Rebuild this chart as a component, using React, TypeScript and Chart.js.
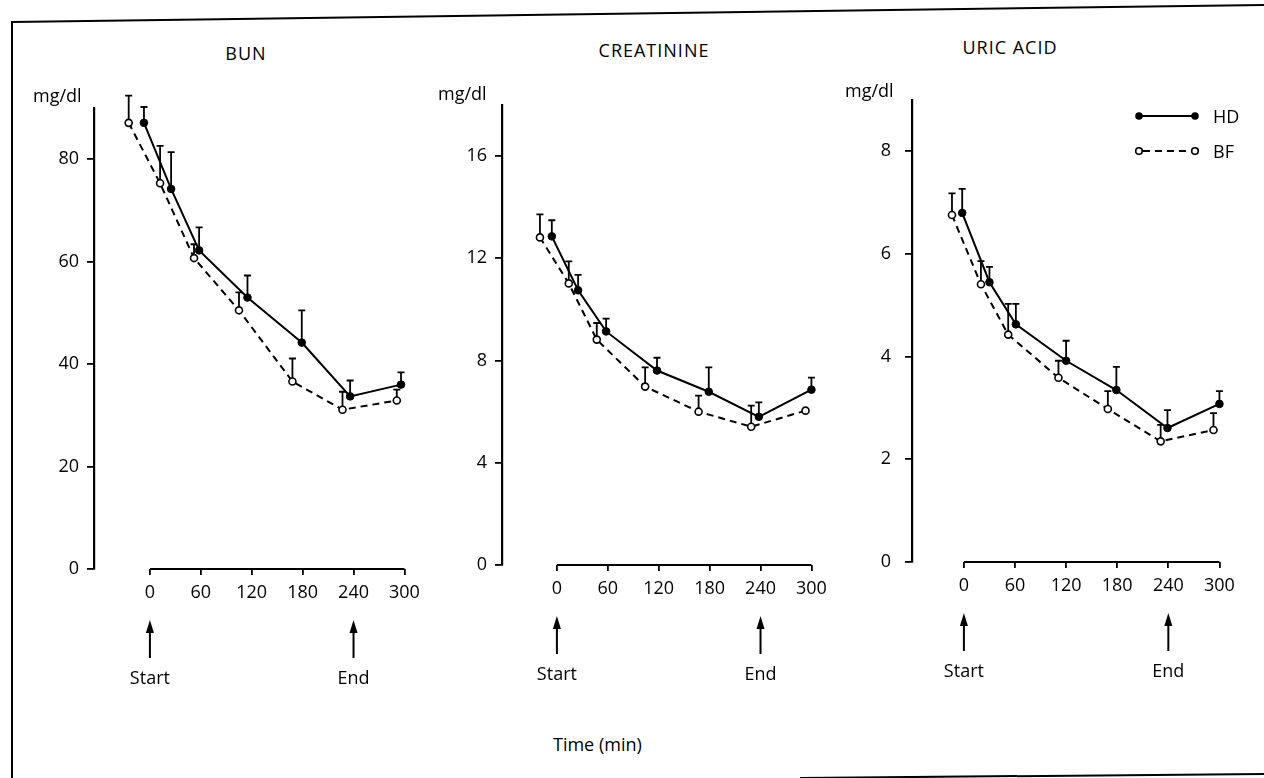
import React, { useEffect, useRef } from 'react';
import { Chart, registerables } from 'chart.js';

Chart.register(...registerables);
Chart.defaults.font.family = "'Open Sans', sans-serif";
Chart.defaults.font.size = 18;
Chart.defaults.color = '#000';

// ---- shared axis data ----
const tickTimes = [0, 60, 120, 180, 240, 300];
const arrowTimes = [0, 240];
const arrowLabels = ['Start', 'End'];
const seriesNames = ['HD', 'BF'];

// ---- BUN ----
const bunTicks = [0, 20, 40, 60, 80];
const bunHdTime = [-7, 25, 58, 115, 179, 236, 296];
const bunHdMean = [87.1, 74.2, 62.2, 53.0, 44.2, 33.7, 36.0];
const bunHdErr = [3.1, 7.2, 4.5, 4.3, 6.3, 3.1, 2.4];
const bunBfTime = [-25, 12, 52, 105, 168, 227, 291];
const bunBfMean = [87.1, 75.3, 60.7, 50.5, 36.6, 31.1, 32.9];
const bunBfErr = [5.3, 7.3, 2.7, 3.5, 4.5, 3.5, 2.1];

// ---- CREATININE ----
const creTicks = [0, 4, 8, 12, 16];
const creHdTime = [-6, 25, 58, 118, 179, 238, 300];
const creHdMean = [12.86, 10.75, 9.14, 7.61, 6.78, 5.8, 6.86];
const creHdErr = [0.63, 0.6, 0.5, 0.5, 0.95, 0.56, 0.47];
const creBfTime = [-20, 14, 47, 104, 167, 229, 293];
const creBfMean = [12.82, 11.02, 8.82, 6.98, 6.0, 5.41, 6.04];
const creBfErr = [0.9, 0.86, 0.65, 0.75, 0.63, 0.83, 0];

// ---- URIC ACID ----
const uriTicks = [0, 2, 4, 6, 8];
const uriHdTime = [-2, 30, 61, 120, 179, 239, 300];
const uriHdMean = [6.8, 5.45, 4.63, 3.92, 3.35, 2.61, 3.08];
const uriHdErr = [0.47, 0.3, 0.4, 0.39, 0.45, 0.35, 0.25];
const uriBfTime = [-14, 20, 52, 111, 169, 231, 293];
const uriBfMean = [6.76, 5.41, 4.43, 3.59, 2.98, 2.35, 2.57];
const uriBfErr = [0.42, 0.45, 0.6, 0.33, 0.35, 0.32, 0.33];

type Series = { t: number[]; m: number[]; e: number[] };
type Layout = { axisX: number; x0: number; x300: number; top: number; bottom: number; labelPad: number; padRight: number };
type Panel = { title: string; yMax: number; yTicks: number[]; hd: Series; bf: Series; layout: Layout };

const panels: Panel[] = [
  {
    title: 'BUN', yMax: 90, yTicks: bunTicks,
    hd: { t: bunHdTime, m: bunHdMean, e: bunHdErr },
    bf: { t: bunBfTime, m: bunBfMean, e: bunBfErr },
    layout: { axisX: 94, x0: 150, x300: 405, top: 108, bottom: 569, labelPad: 8, padRight: 5 },
  },
  {
    title: 'CREATININE', yMax: 18, yTicks: creTicks,
    hd: { t: creHdTime, m: creHdMean, e: creHdErr },
    bf: { t: creBfTime, m: creBfMean, e: creBfErr },
    layout: { axisX: 502, x0: 557, x300: 812, top: 105, bottom: 565, labelPad: 8, padRight: 5 },
  },
  {
    title: 'URIC ACID', yMax: 9, yTicks: uriTicks,
    hd: { t: uriHdTime, m: uriHdMean, e: uriHdErr },
    bf: { t: uriBfTime, m: uriBfMean, e: uriBfErr },
    layout: { axisX: 912, x0: 964, x300: 1220, top: 100, bottom: 562, labelPad: 14, padRight: 5 },
  },
];

const FONT = "'Open Sans', sans-serif";

function PanelChart({ p }: { p: Panel }) {
  const ref = useRef<HTMLCanvasElement>(null);
  const L = p.layout;
  const yAxisW = 80;
  const padTop = 25;
  const below = 130;
  const xAxisH = 45;
  const left = L.axisX - yAxisW;
  const chartRight = L.x300 + 20;
  const width = chartRight + L.padRight - left;
  const topPx = L.top - padTop;
  const height = L.bottom + below - topPx;
  const k = (L.x300 - L.x0) / 300;
  const xMin = -(L.x0 - L.axisX) / k;
  const xMax = 300 + 20 / k;

  useEffect(() => {
    const canvas = ref.current!;
    const mk = (s: Series) => s.t.map((x, i) => ({ x, y: s.m[i] }));
    const errs = [p.hd.e, p.bf.e];

    const errorBars = {
      id: 'errorBars',
      beforeDatasetsDraw(chart: any) {
        const c = chart.ctx;
        const { x, y } = chart.scales;
        c.save();
        c.strokeStyle = '#000';
        c.lineWidth = 1.8;
        chart.data.datasets.forEach((ds: any, di: number) => {
          ds.data.forEach((pt: any, i: number) => {
            const e = errs[di][i];
            if (!e) return;
            const px = x.getPixelForValue(pt.x);
            const y0 = y.getPixelForValue(pt.y);
            const y1 = y.getPixelForValue(pt.y + e);
            c.beginPath();
            c.moveTo(px, y0);
            c.lineTo(px, y1);
            c.moveTo(px - 3.5, y1);
            c.lineTo(px + 3.5, y1);
            c.stroke();
          });
        });
        c.restore();
      },
    };

    const axisDecor = {
      id: 'axisDecor',
      afterDraw(chart: any) {
        const c = chart.ctx;
        const x = chart.scales.x;
        const b = chart.chartArea.bottom;
        c.save();
        c.strokeStyle = '#000';
        c.fillStyle = '#000';
        c.lineWidth = 2.2;
        c.beginPath();
        c.moveTo(x.getPixelForValue(tickTimes[0]), b);
        c.lineTo(x.getPixelForValue(tickTimes[tickTimes.length - 1]), b);
        c.stroke();
        c.font = `18px ${FONT}`;
        c.textAlign = 'center';
        c.textBaseline = 'middle';
        arrowTimes.forEach((t, i) => {
          const px = x.getPixelForValue(t);
          c.lineWidth = 2;
          c.beginPath();
          c.moveTo(px, b + 89);
          c.lineTo(px, b + 60);
          c.stroke();
          c.beginPath();
          c.moveTo(px, b + 51);
          c.lineTo(px - 4, b + 64);
          c.lineTo(px + 4, b + 64);
          c.closePath();
          c.fill();
          c.fillText(arrowLabels[i], px, b + 110);
        });
        c.restore();
      },
    };

    const chart = new Chart(canvas, {
      type: 'line',
      data: {
        datasets: [
          {
            label: seriesNames[0],
            data: mk(p.hd),
            borderColor: '#000',
            backgroundColor: '#000',
            borderWidth: 2,
            pointRadius: 3.8,
            pointBackgroundColor: '#000',
            pointBorderColor: '#000',
            pointBorderWidth: 1,
            tension: 0,
          },
          {
            label: seriesNames[1],
            data: mk(p.bf),
            borderColor: '#000',
            backgroundColor: '#fff',
            borderWidth: 2,
            borderDash: [7, 5],
            pointRadius: 3.5,
            pointBackgroundColor: '#fff',
            pointBorderColor: '#000',
            pointBorderWidth: 1.6,
            tension: 0,
          },
        ],
      },
      options: {
        animation: false,
        responsive: false,
        maintainAspectRatio: false,
        layout: { padding: { top: padTop, right: L.padRight, bottom: below - xAxisH, left: 0 } },
        plugins: { legend: { display: false }, tooltip: { enabled: false } },
        scales: {
          x: {
            type: 'linear',
            min: xMin,
            max: xMax,
            afterBuildTicks: (s: any) => { s.ticks = tickTimes.map((v) => ({ value: v })); },
            afterFit: (s: any) => { s.height = xAxisH; },
            border: { display: false },
            grid: { drawOnChartArea: false, color: '#000', lineWidth: 1.8, tickLength: 6 },
            ticks: { autoSkip: false, maxRotation: 0, padding: 7, color: '#000', font: { size: 18 } },
          },
          y: {
            type: 'linear',
            min: 0,
            max: p.yMax,
            afterBuildTicks: (s: any) => { s.ticks = p.yTicks.map((v) => ({ value: v })); },
            afterFit: (s: any) => { s.width = yAxisW; },
            border: { display: true, color: '#000', width: 2.2 },
            grid: { drawOnChartArea: false, color: '#000', lineWidth: 1.8, tickLength: 7 },
            ticks: { padding: L.labelPad, color: '#000', font: { size: 18 } },
          },
        },
      },
      plugins: [errorBars, axisDecor],
    } as any);
    return () => chart.destroy();
  }, []);

  return (
    <canvas
      ref={ref}
      width={width}
      height={height}
      style={{ position: 'absolute', left, top: topPx, width, height }}
    />
  );
}

function Text({ x, y, children, align = 'left', spacing = 0 }: any) {
  return (
    <div
      style={{
        position: 'absolute',
        left: x,
        top: y - 12,
        lineHeight: '24px',
        height: 24,
        fontFamily: FONT,
        fontSize: 18,
        color: '#000',
        whiteSpace: 'nowrap',
        letterSpacing: spacing,
        transform: align === 'center' ? 'translateX(-50%)' : undefined,
      }}
    >
      {children}
    </div>
  );
}

const titlePos = [
  { x: 246, y: 53 },
  { x: 654, y: 50 },
  { x: 1010, y: 47 },
];
const unitPos = [
  { x: 33, y: 95 },
  { x: 438, y: 93 },
  { x: 845, y: 90 },
];

export default function App() {
  return (
    <div style={{ position: 'absolute', left: 0, top: 0, width: 1264, height: 778, background: '#fff', overflow: 'hidden' }}>
      {/* frame */}
      <div style={{ position: 'absolute', left: 12, top: 21, width: 1254, height: 2, background: '#000', transformOrigin: '0 0', transform: `rotate(${Math.atan2(-17, 1252)}rad)` }} />
      <div style={{ position: 'absolute', left: 11, top: 21, width: 2, height: 757, background: '#000' }} />
      <div style={{ position: 'absolute', left: 800, top: 777, width: 466, height: 2, background: '#000', transformOrigin: '0 0', transform: `rotate(${Math.atan2(-4, 464)}rad)` }} />

      {panels.map((p) => (
        <PanelChart key={p.title} p={p} />
      ))}
      {panels.map((p, i) => (
        <Text key={'t' + i} x={titlePos[i].x} y={titlePos[i].y} align="center" spacing={1}>{p.title}</Text>
      ))}
      {panels.map((p, i) => (
        <Text key={'u' + i} x={unitPos[i].x} y={unitPos[i].y}>mg/dl</Text>
      ))}
      <Text x={553} y={744}>Time (min)</Text>

      {/* legend */}
      <svg style={{ position: 'absolute', left: 0, top: 0 }} width={1264} height={778}>
        <line x1={1139} y1={116} x2={1195} y2={116} stroke="#000" strokeWidth={2} />
        <circle cx={1139} cy={116} r={3.8} fill="#000" />
        <circle cx={1195} cy={116} r={3.8} fill="#000" />
        <line x1={1139} y1={151} x2={1195} y2={151} stroke="#000" strokeWidth={2} strokeDasharray="7 5" strokeDashoffset={-4} />
        <circle cx={1139} cy={151} r={3.3} fill="#fff" stroke="#000" strokeWidth={1.6} />
        <circle cx={1195} cy={151} r={3.3} fill="#fff" stroke="#000" strokeWidth={1.6} />
      </svg>
      <Text x={1213} y={116}>{seriesNames[0]}</Text>
      <Text x={1213} y={151}>{seriesNames[1]}</Text>
    </div>
  );
}
